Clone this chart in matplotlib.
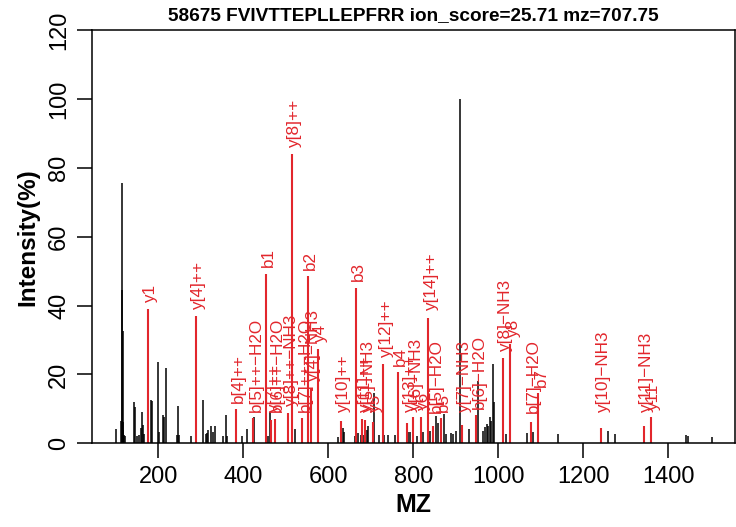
"""
Annotated MS/MS spectrum (peptide FVIVTTEPLLEPFRR)
"""

import matplotlib
matplotlib.use('Agg')
import matplotlib.pyplot as plt
import matplotlib.transforms as mtransforms

plt.rcParams['font.family'] = ['Liberation Sans', 'DejaVu Sans']

title = '58675 FVIVTTEPLLEPFRR ion_score=25.71 mz=707.75'

# unmatched peaks (black)
peak_mz = [100.6, 113.1, 114.1, 115.1, 116.1, 117.1, 118.1, 119.1, 121.1,
           142.8, 144.5, 149.0, 155.6, 158.6, 161.0, 163.3, 165.7,
           182.0, 184.4, 200.0, 202.4, 210.3, 212.7, 218.1,
           243.2, 246.4, 249.0, 276.2, 304.4, 311.8, 314.0, 317.7, 323.3,
           328.0, 333.4, 353.0, 359.3, 361.6, 396.5, 408.7, 425.2, 453.4,
           459.0, 463.5, 521.6, 622.0, 633.5, 637.0, 662.8, 669.0, 676.0,
           683.0, 690.3, 694.0, 707.6, 720.0, 731.0, 741.0, 757.0, 788.5,
           792.0, 808.0, 823.5, 839.5, 853.4, 858.0, 872.5, 876.5, 888.7,
           893.0, 900.5, 909.9, 930.5, 952.5, 964.7, 968.0, 972.7, 975.5,
           980.5, 984.0, 988.3, 990.7, 1018.0, 1066.8, 1082.4, 1141.0,
           1258.8, 1273.9, 1441.6, 1447.0, 1502.8]
peak_int = [4.2, 6.5, 75.5, 44.5, 32.5, 6.2, 4.0, 2.5, 2.0,
            12.0, 10.5, 2.2, 2.5, 4.4, 9.0, 5.2, 2.7,
            12.6, 12.4, 23.6, 3.2, 8.3, 7.6, 21.9,
            2.5, 10.8, 2.5, 2.2, 12.6, 2.7, 2.9, 4.0, 5.0,
            3.2, 5.0, 2.2, 8.3, 2.2, 2.2, 4.2, 7.6, 9.3,
            2.2, 9.0, 4.2, 1.7, 4.5, 3.2, 2.2, 3.0, 2.5,
            2.4, 3.9, 4.9, 14.6, 2.4, 2.4, 2.4, 2.4, 3.2,
            3.4, 2.2, 3.2, 3.6, 8.0, 6.0, 8.5, 2.6, 3.1,
            2.6, 3.6, 100.0, 4.1, 18.0, 3.6, 4.6, 5.5, 5.0,
            7.5, 6.5, 23.0, 11.9, 2.6, 3.1, 3.3, 2.6,
            3.6, 2.8, 2.4, 2.1, 1.9]

# matched fragment ions (red)
ion_mz = [175.1, 288.2, 382.2, 423.8, 452.3, 465.8, 474.3, 505.8, 514.3,
          538.8, 551.4, 558.3, 575.3, 629.4, 664.4, 679.9, 687.4, 704.4,
          729.4, 763.5, 786.0, 800.5, 817.5, 835.5, 846.5, 864.5, 913.6,
          947.6, 1010.6, 1027.6, 1076.6, 1094.6, 1240.7, 1341.8, 1358.8]
ion_int = [39.0, 37.0, 10.0, 7.3, 49.3, 6.8, 7.2, 8.7, 84.0,
           7.3, 48.6, 16.0, 27.4, 6.5, 45.2, 7.0, 6.8, 6.3,
           23.1, 20.6, 6.0, 7.6, 7.6, 36.5, 5.0, 7.3, 5.4,
           8.2, 24.7, 28.7, 6.3, 14.6, 4.4, 5.0, 7.5]
ion_label = ['y1', 'y[4]++', 'b[4]++', 'b[5]++-H2O', 'b1', 'y[7]++',
             'b[6]++-H2O', 'y[8]++-NH3', 'y[8]++', 'b[7]++-H2O', 'b2',
             'y[4]-NH3', 'y4', 'y[10]++', 'b3', 'y[11]++', 'y[5]-NH3', 'y5',
             'y[12]++', 'b4', 'y[13]++', 'y[6]-NH3', 'y6', 'y[14]++',
             'b[5]-H2O', 'b5', 'y[7]-NH3', 'b[6]-H2O', 'y[8]-NH3', 'y8',
             'b[7]-H2O', 'b7', 'y[10]-NH3', 'y[11]-NH3', 'y11']

red = '#e2262c'

fig = plt.figure(figsize=(7.36, 5.27), dpi=100)
ax = fig.add_axes([0.1254, 0.1588, 0.8732, 0.7842])

ax.vlines(peak_mz, 0, peak_int, color='black', lw=1.1)
ax.vlines(ion_mz, 0, ion_int, color=red, lw=1.5)

# labels above matched peaks, rotated like R srt=90
# (small peaks get their label lifted a bit, as in the original)
shift = mtransforms.offset_copy(ax.transData, fig=fig, x=2.2, y=0, units='points')
for x, y, lab in zip(ion_mz, ion_int, ion_label):
    ax.text(x, max(y, 7.0) + 1.8, lab.replace('-', '\u2212'), rotation=90,
            ha='center', va='bottom', color=red, fontsize=12.3, transform=shift)

ax.set_xlim(44.7, 1557)
ax.set_ylim(0, 120)
ax.set_xticks([200, 400, 600, 800, 1000, 1200, 1400])
ax.set_yticks([0, 20, 40, 60, 80, 100, 120])
ax.tick_params(axis='both', direction='out', length=11, width=1.1,
               labelsize=17, pad=5)
for lab in ax.get_yticklabels():
    lab.set_rotation(90)
    lab.set_va('center')
for sp in ax.spines.values():
    sp.set_linewidth(1.1)

ax.set_xlabel('MZ', fontsize=18, fontweight='bold', labelpad=4)
ax.set_ylabel('Intensity(%)', fontsize=17.5, fontweight='bold', labelpad=6)
ax.set_title(title, fontsize=13.7, fontweight='bold', pad=7)

fig.savefig('out.png', dpi=100)
